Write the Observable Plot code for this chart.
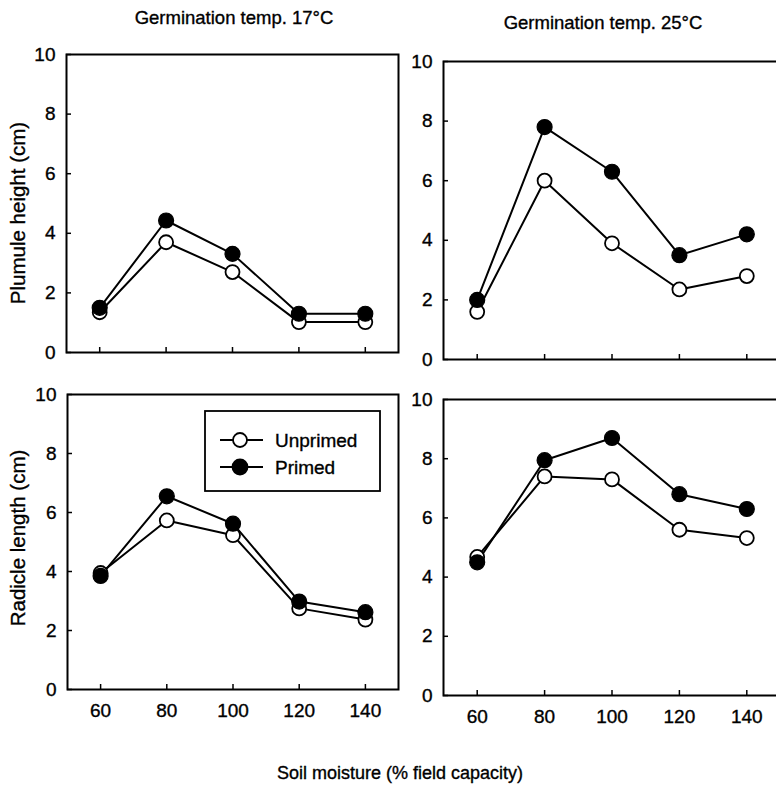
<!DOCTYPE html>
<html>
<head>
<meta charset="utf-8">
<script src="https://cdn.jsdelivr.net/npm/d3@7"></script>
<script src="https://cdn.jsdelivr.net/npm/@observablehq/plot@0.6"></script>
<style>
  html, body { margin: 0; padding: 0; background: #fff; overflow: hidden; }
  #wrap { position: relative; width: 776px; height: 785px; overflow: hidden; font-family: "Liberation Sans", Arial, sans-serif; }
  .panel { position: absolute; }
  .panel text, #labels text, #legend text { stroke: #000; stroke-width: 0.35px; paint-order: stroke; }
  #legend { position: absolute; }
  #labels { position: absolute; left: 0; top: 0; pointer-events: none; }
</style>
</head>
<body>
<div id="wrap"></div>
<script>
// ---- data ----
const moisture = [60, 80, 100, 120, 140];
const seriesNames = ["Unprimed", "Primed"];
const plumule17Unprimed = [1.35, 3.7, 2.7, 1.02, 1.02];
const plumule17Primed   = [1.5, 4.43, 3.31, 1.3, 1.3];
const plumule25Unprimed = [1.6, 6.0, 3.9, 2.35, 2.8];
const plumule25Primed   = [2.0, 7.8, 6.3, 3.5, 4.2];
const radicle17Unprimed = [3.95, 5.73, 5.23, 2.75, 2.37];
const radicle17Primed   = [3.85, 6.55, 5.62, 2.98, 2.62];
const radicle25Unprimed = [4.68, 7.4, 7.3, 5.6, 5.32];
const radicle25Primed   = [4.5, 7.95, 8.7, 6.8, 6.3];
const yTicks = [0, 2, 4, 6, 8, 10];
const titles = ["Germination temp. 17°C", "Germination temp. 25°C"];
const yLabels = ["Plumule height (cm)", "Radicle length (cm)"];
const xLabel = "Soil moisture (% field capacity)";

const FONT = '"Liberation Sans", Arial, sans-serif';
const wrap = document.getElementById("wrap");

function rows(unprimed, primed) {
  const out = [];
  moisture.forEach((m, i) => out.push({x: m, y: unprimed[i], s: seriesNames[0]}));
  moisture.forEach((m, i) => out.push({x: m, y: primed[i], s: seriesNames[1]}));
  return out;
}

function panel(data, {left, top, width, height, mL, mR, mT, mB, showX}) {
  const chart = Plot.plot({
    width, height,
    marginLeft: mL, marginRight: mR, marginTop: mT, marginBottom: mB,
    style: {fontFamily: FONT, fontSize: "19px", color: "#000", background: "transparent"},
    x: {domain: [50, 150]},
    y: {domain: [0, 10]},
    marks: [
      Plot.axisY({ticks: yTicks, tickSize: -5, tickPadding: 16, label: null, strokeWidth: 1.5}),
      Plot.axisX({ticks: moisture, tickSize: -5, tickPadding: showX ? 19 : 0, label: null, strokeWidth: 1.5,
                  tickFormat: showX ? (d => String(d)) : (() => "")}),
      Plot.line(data, {x: "x", y: "y", z: "s", stroke: "#000", strokeWidth: 2}),
      Plot.dot(data.filter(d => d.s === seriesNames[0]), {x: "x", y: "y", r: 7, fill: "#fff", stroke: "#000", strokeWidth: 1.8}),
      Plot.dot(data.filter(d => d.s === seriesNames[1]), {x: "x", y: "y", r: 7.5, fill: "#000", stroke: "#000", strokeWidth: 1.2}),
      Plot.frame({stroke: "#000", strokeWidth: 2})
    ]
  });
  chart.classList.add("panel");
  chart.style.left = left + "px";
  chart.style.top = top + "px";
  wrap.appendChild(chart);
}

panel(rows(plumule17Unprimed, plumule17Primed), {left: 0, top: 0, width: 400, height: 380, mL: 66, mR: 2, mT: 54, mB: 28, showX: false});
panel(rows(plumule25Unprimed, plumule25Primed), {left: 390, top: 0, width: 400, height: 380, mL: 53, mR: 10, mT: 61, mB: 21, showX: false});
panel(rows(radicle17Unprimed, radicle17Primed), {left: 0, top: 370, width: 400, height: 380, mL: 67, mR: 2, mT: 24, mB: 61, showX: true});
panel(rows(radicle25Unprimed, radicle25Primed), {left: 390, top: 370, width: 400, height: 380, mL: 53, mR: 10, mT: 29, mB: 55, showX: true});

// ---- text labels ----
const lab = d3.create("svg").attr("id", "labels").attr("width", 776).attr("height", 785)
  .style("font-family", FONT);
lab.append("text").attr("x", 234).attr("y", 24).attr("text-anchor", "middle").style("font-size", "18.5px").text(titles[0]);
lab.append("text").attr("x", 603).attr("y", 29).attr("text-anchor", "middle").style("font-size", "18.5px").text(titles[1]);
lab.append("text").attr("transform", "translate(25,213) rotate(-90)").attr("text-anchor", "middle").style("font-size", "20.5px").text(yLabels[0]);
lab.append("text").attr("transform", "translate(25,538) rotate(-90)").attr("text-anchor", "middle").style("font-size", "20.5px").text(yLabels[1]);
lab.append("text").attr("x", 400).attr("y", 779).attr("text-anchor", "middle").style("font-size", "18px").text(xLabel);
wrap.appendChild(lab.node());

// ---- legend ----
const lg = d3.create("svg").attr("id", "legend").attr("width", 178).attr("height", 83)
  .style("left", "204px").style("top", "410px")
  .style("font-family", FONT).style("font-size", "19px");
lg.append("rect").attr("x", 1).attr("y", 1).attr("width", 175).attr("height", 80)
  .attr("fill", "#fff").attr("stroke", "#000").attr("stroke-width", 1.8);
seriesNames.forEach((name, i) => {
  const cy = 30 + i * 27;
  lg.append("line").attr("x1", 16).attr("x2", 59).attr("y1", cy).attr("y2", cy)
    .attr("stroke", "#000").attr("stroke-width", 2);
  lg.append("circle").attr("cx", 36).attr("cy", cy).attr("r", i ? 7.5 : 7)
    .attr("fill", i ? "#000" : "#fff").attr("stroke", "#000").attr("stroke-width", 1.8);
  lg.append("text").attr("x", 71).attr("y", cy + 7).text(name);
});
wrap.appendChild(lg.node());
</script>
</body>
</html>
